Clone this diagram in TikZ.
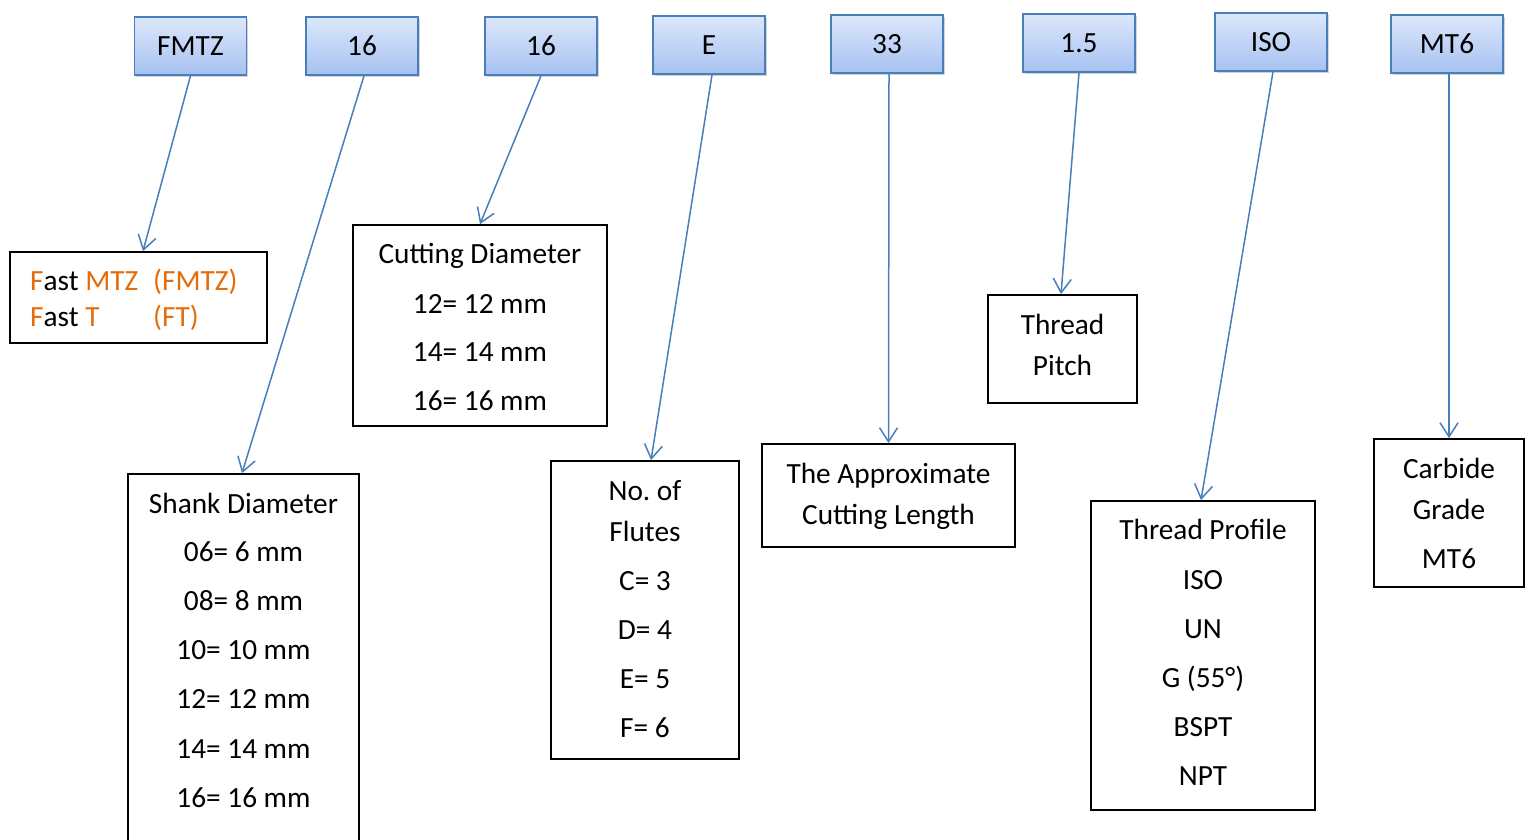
\documentclass[tikz,border=0pt]{standalone}
\usepackage{fontspec}
\setmainfont{Carlito}
\usetikzlibrary{arrows.meta,shadows,calc}
\definecolor{orng}{HTML}{E46C0A}
\definecolor{arrblue}{HTML}{4A7EBB}
\definecolor{topc}{HTML}{DCE7FA}
\definecolor{botc}{HTML}{A6C2F1}
\frenchspacing
\begin{document}
\begin{tikzpicture}[x=1pt,y=-1pt,
  font=\fontsize{29.3}{35}\selectfont,
  topbox/.style={draw=arrblue,line width=1.6pt,top color=topc,bottom color=botc,
    minimum width=112pt,minimum height=58pt,inner sep=0pt,
    drop shadow={shadow xshift=1.5pt,shadow yshift=-2pt,opacity=0.35}},
  infobox/.style={draw=black,line width=1.8pt,inner sep=0pt},
  txt/.style={inner sep=0pt,anchor=base},
  txtl/.style={inner sep=0pt,anchor=base west},
  arr/.style={draw=arrblue,line width=1.5pt,-{Straight Barb[length=14pt,width=18pt,line width=1.5pt]}}]
\useasboundingbox (0,0) rectangle (1528,839);
\clip (0,0) rectangle (1528,839);
% top boxes
\node[topbox] (t1) at (190.5,46) {};
\node[txt] (t1x) at (190.5,55) {FMTZ};
\node[topbox] (t2) at (362,46) {};
\node[txt] (t2x) at (362,55) {16};
\node[topbox] (t3) at (541,46) {};
\node[txt] (t3x) at (541,55) {16};
\node[topbox] (t4) at (709,45) {};
\node[txt] (t4x) at (709,54) {E};
\node[topbox] (t5) at (887,44) {};
\node[txt] (t5x) at (887,53) {33};
\node[topbox] (t6) at (1079,43) {};
\node[txt] (t6x) at (1079,52) {1.5};
\node[topbox] (t7) at (1271,42) {};
\node[txt] (t7x) at (1271,51) {ISO};
\node[topbox] (t8) at (1447,44) {};
\node[txt] (t8x) at (1447,53) {MT6};
% info boxes
\node[infobox,minimum width=257pt,minimum height=91pt] (fast) at (138.5,297.5) {};
\node[txtl] (f1) at (30,290) {\textcolor{orng}{F}ast \textcolor{orng}{MTZ}};
\node[txtl,text=orng] (f2) at (153,290) {(FMTZ)};
\node[txtl] (f3) at (30,326) {\textcolor{orng}{F}ast \textcolor{orng}{T}};
\node[txtl,text=orng] (f4) at (153,326) {(FT)};
\node[infobox,minimum width=254pt,minimum height=201pt] (cut) at (480,325.5) {};
\foreach \t/\y [count=\i] in {Cutting Diameter/263,12= 12 mm/313,14= 14 mm/361,16= 16 mm/410}
  \node[txt] (c\i) at (480,\y) {\t};
\node[infobox,minimum width=231pt,minimum height=386pt] (shank) at (243.5,667) {};
\foreach \t/\y [count=\i] in {Shank Diameter/513,06= 6 mm/561,08= 8 mm/610,10= 10 mm/659,12= 12 mm/708,14= 14 mm/758,16= 16 mm/807}
  \node[txt] (s\i) at (243.5,\y) {\t};
\node[infobox,minimum width=188pt,minimum height=298pt] (flutes) at (645,610) {};
\foreach \t/\y [count=\i] in {No. of/500,Flutes/541,C= 3/590,D= 4/639,E= 5/688,F= 6/737}
  \node[txt] (n\i) at (645,\y) {\t};
\node[infobox,minimum width=253pt,minimum height=103pt] (approx) at (888.5,495.5) {};
\node[txt] (a1) at (888.5,483) {The Approximate};
\node[txt] (a2) at (888.5,524) {Cutting Length};
\node[infobox,minimum width=149pt,minimum height=108pt] (pitch) at (1062.5,349) {};
\node[txt] (p1) at (1062.5,334) {Thread};
\node[txt] (p2) at (1062.5,375) {Pitch};
\node[infobox,minimum width=224pt,minimum height=309pt] (profile) at (1203,655.5) {};
\foreach \t/\y [count=\i] in {Thread Profile/539,ISO/589,UN/638,G (55°)/687,BSPT/736,NPT/785}
  \node[txt] (r\i) at (1203,\y) {\t};
\node[infobox,minimum width=150pt,minimum height=148pt] (carbide) at (1449,513) {};
\node[txt] (g1) at (1449,478) {Carbide};
\node[txt] (g2) at (1449,519) {Grade};
\node[txt] (g3) at (1449,568) {MT6};
% connectors
\draw[arr] (t1.south) -- ([xshift=4.5pt]fast.north);
\draw[arr] ([xshift=2pt]t2.south) -- ([xshift=-1.5pt]shank.north);
\draw[arr] (t3.south) -- (cut.north);
\draw[arr] ([xshift=3pt]t4.south) -- ([xshift=6pt]flutes.north);
\draw[arr] ([xshift=2pt]t5.south) -- (approx.north);
\draw[arr] (t6.south) -- ([xshift=-1.5pt]pitch.north);
\draw[arr] ([xshift=2pt]t7.south) -- ([xshift=-2pt]profile.north);
\draw[arr] ([xshift=2pt]t8.south) -- (carbide.north);
\end{tikzpicture}
\end{document}
